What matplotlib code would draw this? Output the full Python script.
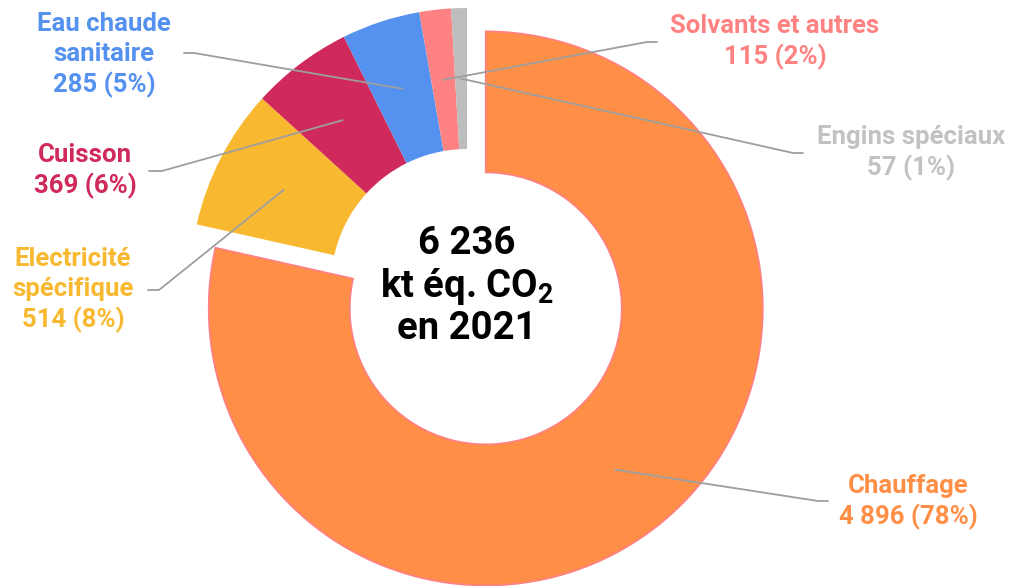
import numpy as np
import matplotlib
matplotlib.use("Agg")
import matplotlib.pyplot as plt

plt.rcParams["font.family"] = ["Roboto", "DejaVu Sans"]

# Emissions du résidentiel par usage (kt éq. CO2, 2021)
usages = ["Chauffage", "Electricité\nspécifique", "Cuisson",
          "Eau chaude\nsanitaire", "Solvants et autres", "Engins spéciaux"]
valeurs = [4896, 514, 369, 285, 115, 57]
etiquettes_valeurs = ["4\u202f896 (78%)", "514 (8%)", "369 (6%)",
                      "285 (5%)", "115 (2%)", "57 (1%)"]
couleurs = ["#FF8F46", "#F8B930", "#D0295B", "#5591EF", "#FF8282", "#BDBDBD"]
couleurs_texte = ["#FF8F46", "#F8B930", "#D0295B", "#5591EF", "#FF8282", "#C2C2C2"]
total_txt = "6 236\nkt éq. CO$_\\mathregular{2}$\nen 2021"

W, H = 1015, 586
fig = plt.figure(figsize=(W / 100, H / 100), dpi=100)
ax = fig.add_axes([0, 0, 1, 1])

# géométrie en pixels (y vers le haut)
cx, cy = 467, H - 285
R, largeur = 277, 141
ecart = 30

explode = [ecart] + [0] * (len(valeurs) - 1)
wedges, _ = ax.pie(valeurs, colors=couleurs, startangle=90, counterclock=False,
                   radius=R, center=(cx, cy), explode=explode,
                   wedgeprops=dict(width=largeur, linewidth=0))
wedges[0].set_edgecolor("#FF8080")
wedges[0].set_linewidth(1.3)

ax.set_xlim(0, W)
ax.set_ylim(0, H)
ax.set_aspect("equal")
ax.axis("off")

# positions des étiquettes (centre du texte) et coudes des traits de rappel
pos_labels = [(908, 502), (73, 290), (85, 171), (104, 55), (775, 42), (911, 153)]
coudes = [((818, 501), (828, 501)), ((159, 290), (148, 290)),
          ((162, 171), (149, 171)), ((194, 53), (184, 53)),
          ((647, 42), (657, 42)), ((793, 153), (803, 153))]

for w, nom, val, col, (lx, ly), (c1, c2) in zip(
        wedges, usages, etiquettes_valeurs, couleurs_texte, pos_labels, coudes):
    wx, wy = w.center
    ang = np.deg2rad((w.theta1 + w.theta2) / 2)
    rm = R - largeur / 2
    px, py = wx + rm * np.cos(ang), wy + rm * np.sin(ang)
    ax.plot([px, c1[0], c2[0]], [py, H - c1[1], H - c2[1]],
            color="#9E9E9E", lw=1.3, solid_capstyle="round", zorder=3)
    ax.text(lx, H - ly, f"{nom}\n{val}", ha="center", va="center",
            fontsize=18.5, fontweight="bold", color=col, linespacing=1.28)

ax.text(cx, cy - 1, total_txt, ha="center", va="center", fontsize=27.5,
        fontweight="bold", color="black", linespacing=1.13)

fig.savefig("out.png", dpi=100)
